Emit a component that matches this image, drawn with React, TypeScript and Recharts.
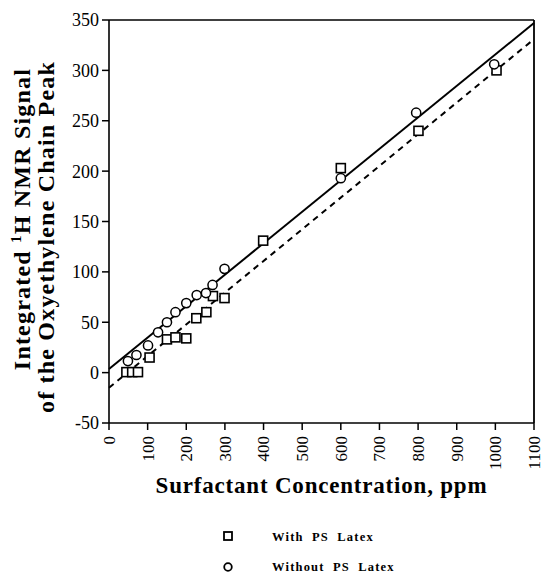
import React from 'react';
import { ComposedChart, Scatter, XAxis, YAxis, ReferenceLine } from 'recharts';

const xTicks = [0, 100, 200, 300, 400, 500, 600, 700, 800, 900, 1000, 1100];
const yTicks = [-50, 0, 50, 100, 150, 200, 250, 300, 350];

const withLatexX = [45, 60, 75, 105, 150, 172, 200, 226, 252, 269, 299, 399, 600, 801, 1003];
const withLatexY = [0.5, 0.5, 0.5, 15, 33, 35, 34, 54, 60, 76, 74, 131, 203, 240, 300];

const withoutLatexX = [49, 71, 101, 127, 150, 172, 200, 227, 251, 268, 299, 600, 795, 997];
const withoutLatexY = [11.5, 17.5, 27, 40, 50, 60, 69, 77, 79, 87, 103, 193, 258, 306];

const fitX = [0, 1100];
const fitWithLatex = [-15, 331];
const fitWithoutLatex = [3.5, 347];

const withData = withLatexX.map((x, i) => ({ x, y: withLatexY[i] }));
const withoutData = withoutLatexX.map((x, i) => ({ x, y: withoutLatexY[i] }));

const FONT = '"Liberation Serif", "Times New Roman", serif';

const SquareShape = (props: any) => {
  const { cx, cy } = props;
  if (cx == null || cy == null) return null;
  return <rect x={cx - 4.5} y={cy - 4.5} width={9} height={9} fill="#fff" stroke="#000" strokeWidth={1.6} />;
};

const CircleShape = (props: any) => {
  const { cx, cy } = props;
  if (cx == null || cy == null) return null;
  return <circle cx={cx} cy={cy} r={4.6} fill="#fff" stroke="#000" strokeWidth={1.5} />;
};

const XTick = (props: any) => {
  const { x, y, payload } = props;
  return (
    <text
      x={x}
      y={y + 4}
      transform={`rotate(-90 ${x} ${y + 4})`}
      textAnchor="end"
      dy="0.35em"
      fontFamily={FONT}
      fontSize={17}
      fill="#000"
    >
      {payload.value}
    </text>
  );
};

const YLabel = () => (
  <g fontFamily={FONT} fontWeight="bold" fontSize={24} fill="#000" letterSpacing={1.2}>
    <text x={30} y={219} transform="rotate(-90 30 219)" textAnchor="middle">
      Integrated <tspan fontSize={15} dy={-9}>1</tspan>
      <tspan dy={9}>H NMR Signal</tspan>
    </text>
    <text x={53.5} y={237} transform="rotate(-90 53.5 237)" textAnchor="middle">
      of the Oxyethylene Chain Peak
    </text>
  </g>
);

const XLabel = () => (
  <text
    x={321.5}
    y={493}
    textAnchor="middle"
    fontFamily={FONT}
    fontWeight="bold"
    fontSize={23}
    letterSpacing={0.8}
    fill="#000"
  >
    Surfactant Concentration, ppm
  </text>
);

export default function App() {
  return (
    <div style={{ position: 'absolute', left: 0, top: 0, width: 544, height: 575, background: '#fff' }}>
      <ComposedChart width={544} height={575} margin={{ top: 20, right: 10, left: 0, bottom: 0 }}>
        <XAxis
          type="number"
          dataKey="x"
          domain={[0, 1100]}
          ticks={xTicks}
          interval={0}
          height={152}
          tickSize={7}
          tick={<XTick />}
          axisLine={{ stroke: '#000', strokeWidth: 1.6 }}
          tickLine={{ stroke: '#000', strokeWidth: 1.5 }}
          label={<XLabel />}
          allowDataOverflow
        />
        <YAxis
          type="number"
          dataKey="y"
          domain={[-50, 350]}
          ticks={yTicks}
          interval={0}
          width={109}
          tickSize={7}
          tickMargin={3}
          tick={{ fontFamily: FONT, fontSize: 18, fill: '#000' }}
          axisLine={{ stroke: '#000', strokeWidth: 1.6 }}
          tickLine={{ stroke: '#000', strokeWidth: 1.5 }}
          label={<YLabel />}
          allowDataOverflow
        />
        <ReferenceLine y={350} stroke="#000" strokeWidth={1.5} />
        <ReferenceLine x={1100} stroke="#000" strokeWidth={1.8} />
        <ReferenceLine
          segment={[
            { x: fitX[0], y: fitWithoutLatex[0] },
            { x: fitX[1], y: fitWithoutLatex[1] },
          ]}
          stroke="#000"
          strokeWidth={2}
        />
        <ReferenceLine
          segment={[
            { x: fitX[0], y: fitWithLatex[0] },
            { x: fitX[1], y: fitWithLatex[1] },
          ]}
          stroke="#000"
          strokeWidth={2}
          strokeDasharray="6 5"
        />
        <Scatter name="With PS Latex" data={withData} shape={<SquareShape />} isAnimationActive={false} />
        <Scatter name="Without PS Latex" data={withoutData} shape={<CircleShape />} isAnimationActive={false} />
      </ComposedChart>
      <svg width={544} height={575} style={{ position: 'absolute', left: 0, top: 0, pointerEvents: 'none' }}>
        <rect x={224} y={532} width={8} height={8} fill="#fff" stroke="#000" strokeWidth={1.8} />
        <text x={272} y={541} fontFamily={FONT} fontWeight="bold" fontSize={12.5} letterSpacing={1.2} wordSpacing={4} fill="#000">
          With PS Latex
        </text>
        <circle cx={228} cy={567} r={3.8} fill="#fff" stroke="#000" strokeWidth={1.8} />
        <text x={272} y={571} fontFamily={FONT} fontWeight="bold" fontSize={12.5} letterSpacing={1.2} wordSpacing={4} fill="#000">
          Without PS Latex
        </text>
      </svg>
    </div>
  );
}
